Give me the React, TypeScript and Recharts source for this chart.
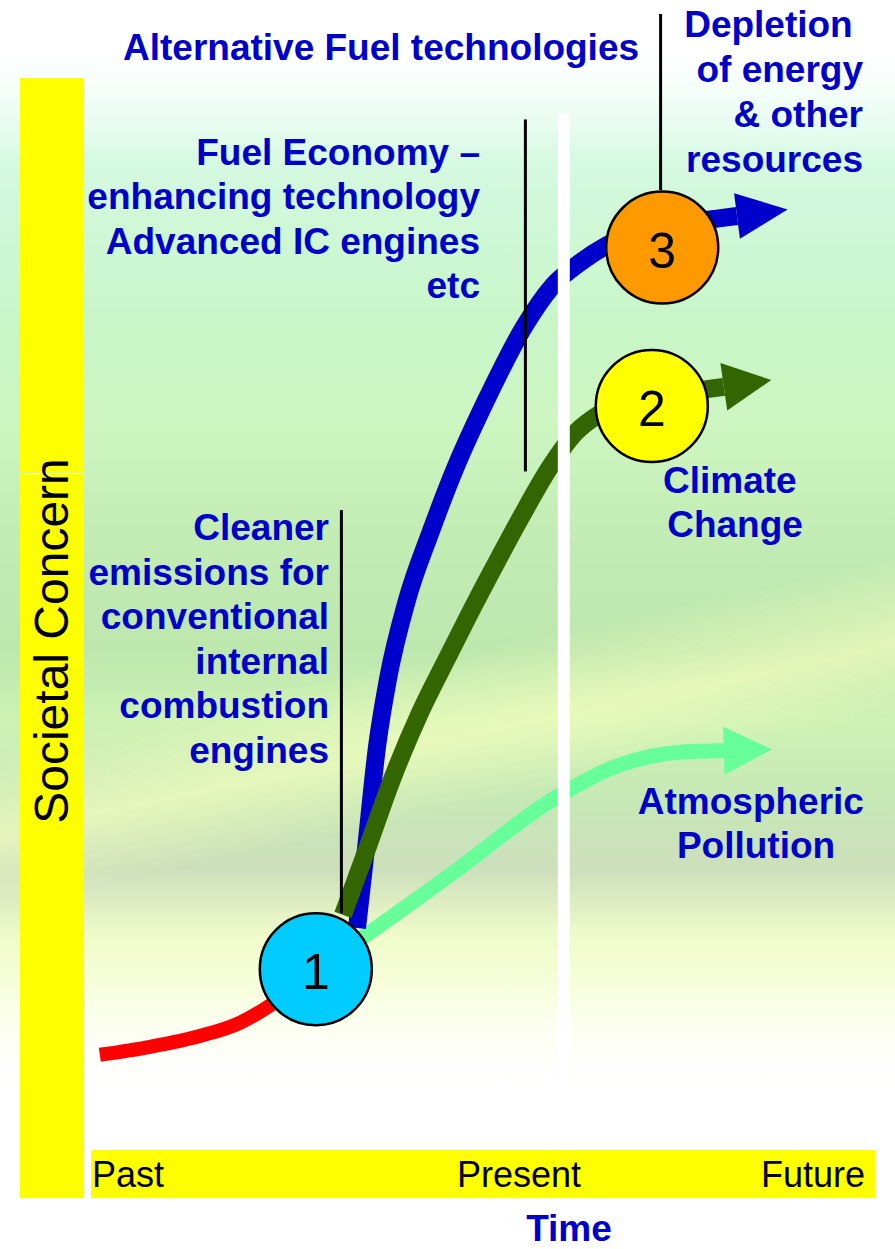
import React from "react";
import { ComposedChart, Line, Scatter, XAxis, YAxis } from "recharts";

// x = time, y = societal concern; one unit is the same size on both axes
const TIME_MAX = 98;
const CONCERN_MAX = 143;

const timeLabels = ["Past", "Present", "Future"];

const earlyConcern = [
  { x: 1.1, y: 11.9 }, { x: 7.4, y: 12.9 }, { x: 13.6, y: 14.25 }, { x: 18.6, y: 15.9 },
  { x: 22.4, y: 18.1 }, { x: 26.1, y: 21 },
];

const pollution = [
  { x: 28.1, y: 22.5 }, { x: 34, y: 26.6 }, { x: 45.4, y: 34.75 }, { x: 58, y: 44 },
  { x: 65.75, y: 48 }, { x: 74, y: 49.75 }, { x: 79.1, y: 49.9 },
];

const climate = [
  { x: 31.5, y: 29.4 }, { x: 34.6, y: 37.9 }, { x: 37.6, y: 46.25 }, { x: 41.1, y: 54.6 },
  { x: 44.4, y: 61.25 }, { x: 47.1, y: 66.6 }, { x: 50.4, y: 72.9 }, { x: 53.75, y: 79.1 },
  { x: 57.4, y: 85.4 }, { x: 60.5, y: 89.6 }, { x: 63.4, y: 91.9 }, { x: 69.9, y: 94 },
  { x: 77, y: 95.1 }, { x: 79.1, y: 95.4 },
];

const resources = [
  { x: 33.25, y: 27.75 }, { x: 34.4, y: 37.9 }, { x: 35.75, y: 50.4 }, { x: 37.1, y: 58.75 },
  { x: 39.5, y: 68.75 }, { x: 42.4, y: 77.1 }, { x: 45.6, y: 85.4 }, { x: 49.4, y: 93.75 },
  { x: 54.25, y: 103.1 }, { x: 57.6, y: 107.9 }, { x: 61.1, y: 110.9 }, { x: 64.5, y: 113.1 },
  { x: 71.1, y: 115.4 }, { x: 78, y: 116.4 }, { x: 80.75, y: 116.75 },
];

const presentLine = [{ x: 59.1, y: 7.6 }, { x: 59.1, y: 129.6 }];
const leaderEmissions = [{ x: 31.3, y: 29.6 }, { x: 31.3, y: 80 }];
const leaderEconomy = [{ x: 54.3, y: 84.8 }, { x: 54.3, y: 128.8 }];
const leaderAlternative = [{ x: 71.2, y: 120 }, { x: 71.2, y: 142 }];

const milestones = [
  { x: 28.1, y: 22.6, label: "1" },
  { x: 70.1, y: 93.0, label: "2" },
  { x: 71.4, y: 112.8, label: "3" },
];
const milestoneFills = ["#00CCFF", "#FFFF00", "#FF9900"];

const economyLines = ["Fuel Economy –", "enhancing technology", "Advanced IC engines", "etc"];
const depletionLines = ["Depletion\u00a0", "of energy", "& other", "resources"];
const emissionLines = ["Cleaner", "emissions for", "conventional", "internal", "combustion", "engines"];
const climateLines = ["Climate\u00a0", "Change"];
const pollutionLines = ["Atmospheric\u00a0", "Pollution"];

const FONT = "'Liberation Sans', Arial, sans-serif";
const BLUE_TEXT = "#0000CC";

const backdrop = [
  "linear-gradient(to bottom, #ffffff 0px, #ffffff 50px, rgba(255,255,255,0) 160px)",
  "linear-gradient(to bottom, rgba(255,255,255,0) 990px, #ffffff 1100px)",
  "linear-gradient(168deg, rgba(250,255,190,0) 52%, rgba(250,255,190,0.6) 58%, rgba(250,255,190,0) 63%)",
  "linear-gradient(to bottom, #e6fdf4 60px, #d2f8dc 190px, #c8f6c8 320px, #cdf5c0 430px, #c2ecb4 540px, #bde7ad 650px, #cdf2b4 720px, #c6e8b6 800px, #cddfbc 870px, #effbc9 935px, #f8ffe0 1000px, #ffffff 1100px)",
].join(",");

const arrowHead = (series: { x: number; y: number }[], color: string, len: number, half: number) =>
  (props: any) => {
    const { cx, cy, index } = props;
    if (index !== series.length - 1 || cx == null) return <g key={`d-${index}`} />;
    const a = series[series.length - 2];
    const b = series[series.length - 1];
    const dx = b.x - a.x;
    const dy = -(b.y - a.y);
    const m = Math.hypot(dx, dy) || 1;
    const ux = dx / m;
    const uy = dy / m;
    const pts = [
      [cx - uy * half, cy + ux * half],
      [cx + uy * half, cy - ux * half],
      [cx + ux * len, cy + uy * len],
    ];
    return <polygon key={`d-${index}`} points={pts.map((p) => p.join(",")).join(" ")} fill={color} />;
  };

const renderMilestone = (props: any) => {
  const { cx, cy, payload, index } = props;
  return (
    <g key={`m-${index}`}>
      <circle cx={cx} cy={cy} r={56} fill={milestoneFills[index]} stroke="#000" strokeWidth={2.5} />
      <text x={cx} y={cy + 20} textAnchor="middle" fontFamily={FONT} fontSize={50} fill="#000">
        {payload.label}
      </text>
    </g>
  );
};

const TextBlock = ({ lines, x, y, step, anchor }: { lines: string[]; x: number; y: number; step: number; anchor: string }) => (
  <g>
    {lines.map((t, i) => (
      <text key={t} x={x} y={y + i * step} textAnchor={anchor as any} fontFamily={FONT} fontWeight="bold" fontSize={37} fill={BLUE_TEXT}>
        {t}
      </text>
    ))}
  </g>
);

const App = () => {
  return (
    <div style={{ position: "absolute", left: 0, top: 0, width: 895, height: 1249, overflow: "hidden", background: backdrop }}>
      <ComposedChart
        width={895}
        height={1249}
        margin={{ top: 6, right: 20, bottom: 99, left: 91 }}
        style={{ position: "absolute", left: 0, top: 0 }}
      >
        <XAxis type="number" dataKey="x" domain={[0, TIME_MAX]} allowDataOverflow hide />
        <YAxis type="number" dataKey="y" domain={[0, CONCERN_MAX]} allowDataOverflow hide />
        <Line data={earlyConcern} dataKey="y" type="monotone" stroke="#FF0000" strokeWidth={14} dot={false} activeDot={false} isAnimationActive={false} />
        <Line data={pollution} dataKey="y" type="monotone" stroke="#66FF99" strokeWidth={15} dot={arrowHead(pollution, "#66FF99", 48, 24)} activeDot={false} isAnimationActive={false} />
        <Line data={resources} dataKey="y" type="monotone" stroke="#0000CC" strokeWidth={18} dot={arrowHead(resources, "#0000CC", 51, 23)} activeDot={false} isAnimationActive={false} />
        <Line data={climate} dataKey="y" type="monotone" stroke="#336600" strokeWidth={18} dot={arrowHead(climate, "#336600", 48, 24)} activeDot={false} isAnimationActive={false} />
        <Line data={presentLine} dataKey="y" type="linear" stroke="#FFFFFF" strokeWidth={12} dot={false} activeDot={false} isAnimationActive={false} />
        <Line data={leaderEmissions} dataKey="y" type="linear" stroke="#000" strokeWidth={3} dot={false} activeDot={false} isAnimationActive={false} />
        <Line data={leaderEconomy} dataKey="y" type="linear" stroke="#000" strokeWidth={3} dot={false} activeDot={false} isAnimationActive={false} />
        <Line data={leaderAlternative} dataKey="y" type="linear" stroke="#000" strokeWidth={3} dot={false} activeDot={false} isAnimationActive={false} />
        <Scatter data={milestones} dataKey="y" shape={renderMilestone} isAnimationActive={false} />
      </ComposedChart>

      <svg width={895} height={1249} style={{ position: "absolute", left: 0, top: 0, pointerEvents: "none" }}>
        {/* concern axis bar */}
        <rect x={20} y={78} width={64} height={1120} fill="#FFFF00" />
        <line x1={20} x2={84} y1={473.5} y2={473.5} stroke="#d8fff0" strokeWidth={1} />
        <text transform="translate(68,641) rotate(-90)" textAnchor="middle" fontFamily={FONT} fontSize={48} fill="#000">
          Societal Concern
        </text>

        {/* time axis bar */}
        <rect x={91} y={1150} width={784} height={48} fill="#FFFF00" />
        <text x={92} y={1187} fontFamily={FONT} fontSize={36} fill="#000">{timeLabels[0]}</text>
        <text x={457} y={1187} fontFamily={FONT} fontSize={36} fill="#000">{timeLabels[1]}</text>
        <text x={865} y={1187} textAnchor="end" fontFamily={FONT} fontSize={36} fill="#000">{timeLabels[2]}</text>
        <text x={569} y={1241} textAnchor="middle" fontFamily={FONT} fontWeight="bold" fontSize={37} fill={BLUE_TEXT}>Time</text>

        <text x={123} y={60} fontFamily={FONT} fontWeight="bold" fontSize={37} fill={BLUE_TEXT}>Alternative Fuel technologies</text>
        <TextBlock lines={economyLines} x={480} y={165} step={44.4} anchor="end" />
        <TextBlock lines={depletionLines} x={863} y={37} step={45} anchor="end" />
        <TextBlock lines={emissionLines} x={329} y={540} step={44.6} anchor="end" />
        <TextBlock lines={climateLines} x={735} y={493} step={44} anchor="middle" />
        <TextBlock lines={pollutionLines} x={756} y={814} step={44} anchor="middle" />
      </svg>
    </div>
  );
};

export default App;
